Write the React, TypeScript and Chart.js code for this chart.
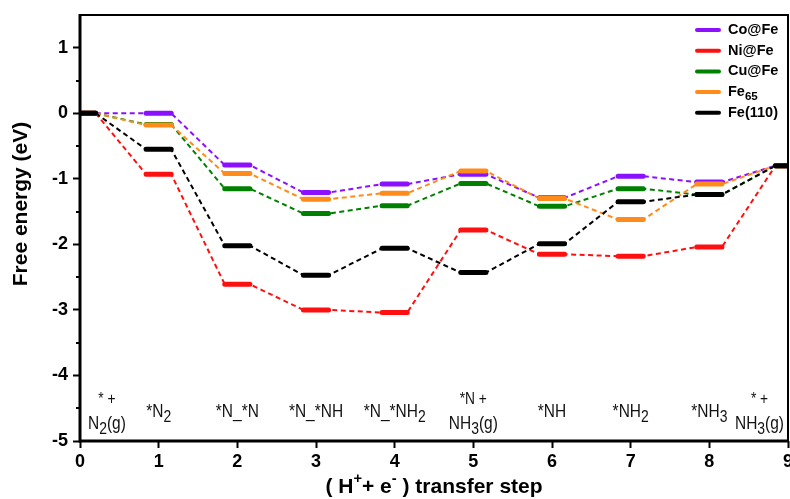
import React, { useEffect, useRef } from "react";
import { Chart, registerables } from "chart.js";
Chart.register(...registerables);

const steps = [0, 1, 2, 3, 4, 5, 6, 7, 8, 9];
const seriesNames = ["Co@Fe", "Ni@Fe", "Cu@Fe", "Fe_{65}", "Fe(110)"];
const coFe = [0, 0.0, -0.79, -1.21, -1.08, -0.93, -1.29, -0.96, -1.05, -0.8];
const niFe = [0, -0.93, -2.61, -3.0, -3.04, -1.78, -2.15, -2.18, -2.04, -0.8];
const cuFe = [0, -0.17, -1.15, -1.53, -1.41, -1.07, -1.42, -1.15, -1.24, -0.8];
const fe65 = [0, -0.18, -0.92, -1.31, -1.22, -0.88, -1.3, -1.62, -1.08, -0.8];
const fe110 = [0, -0.55, -2.02, -2.47, -2.06, -2.43, -1.99, -1.35, -1.24, -0.8];
const seriesValues = [coFe, niFe, cuFe, fe65, fe110];
const seriesColors = ["#8a10ff", "#ff1010", "#008000", "#ff8c1a", "#000000"];
const stepLabels = [
  "* +|N_{2}(g)",
  "*N_{2}",
  "*N_*N",
  "*N_*NH",
  "*N_*NH_{2}",
  "*N +|NH_{3}(g)",
  "*NH",
  "*NH_{2}",
  "*NH_{3}",
  "* +|NH_{3}(g)",
];
const yTitle = "Free energy (eV)";
const xTitle = "( H^{+}+ e^{-} ) transfer step";

const HALF = 0.16;
const END_W = 0.2;

const SANS = '"Liberation Sans", Arial, Helvetica, sans-serif';
const NARROW_SX = 0.86;

type Seg = { t: string; k: "n" | "sub" | "sup" };
function parseRich(s: string): Seg[] {
  const out: Seg[] = [];
  let i = 0;
  let buf = "";
  while (i < s.length) {
    if ((s[i] === "_" || s[i] === "^") && s[i + 1] === "{") {
      if (buf) out.push({ t: buf, k: "n" });
      buf = "";
      const end = s.indexOf("}", i);
      out.push({ t: s.slice(i + 2, end), k: s[i] === "_" ? "sub" : "sup" });
      i = end + 1;
    } else {
      buf += s[i];
      i++;
    }
  }
  if (buf) out.push({ t: buf, k: "n" });
  return out;
}

function segSize(k: string, size: number, subScale: number) {
  return k === "n" ? size : k === "sub" ? size * subScale : size * 0.7;
}

function measureRich(ctx: CanvasRenderingContext2D, text: string, size: number, weight: string, family: string, subScale = 0.8) {
  let total = 0;
  parseRich(text).forEach((sg) => {
    ctx.font = `${weight} ${segSize(sg.k, size, subScale)}px ${family}`;
    total += ctx.measureText(sg.t).width;
  });
  return total;
}

function drawRich(
  ctx: CanvasRenderingContext2D,
  text: string,
  x: number,
  y: number,
  size: number,
  weight: string,
  family: string,
  align: "left" | "center",
  sx = 1,
  subScale = 0.8
) {
  const segs = parseRich(text);
  const total = measureRich(ctx, text, size, weight, family, subScale);
  ctx.save();
  ctx.translate(x, y);
  ctx.scale(sx, 1);
  let cx = align === "center" ? -total / 2 : 0;
  ctx.textAlign = "left";
  ctx.textBaseline = "middle";
  segs.forEach((sg) => {
    ctx.font = `${weight} ${segSize(sg.k, size, subScale)}px ${family}`;
    const dy = sg.k === "sub" ? size * 0.32 : sg.k === "sup" ? -size * 0.38 : 0;
    ctx.fillText(sg.t, cx, dy);
    cx += ctx.measureText(sg.t).width;
  });
  ctx.restore();
  return total * sx;
}

const decorPlugin = {
  id: "decor",
  afterDatasetsDraw(chart: any) {
    const ctx: CanvasRenderingContext2D = chart.ctx;
    const { left, right } = chart.chartArea;
    const xs = chart.scales.x;
    ctx.save();
    ctx.fillStyle = "#111";
    stepLabels.forEach((lab, i) => {
      const lines = lab.split("|");
      const w = Math.max(...lines.map((l) => measureRich(ctx, l, 18, "normal", SANS, 0.9))) * NARROW_SX;
      let cx = xs.getPixelForValue(steps[i]);
      cx = Math.max(left + w / 2 + 8, Math.min(right - w / 2 - 4, cx));
      if (lines.length === 1) {
        drawRich(ctx, lines[0], cx, 412, 18, "normal", SANS, "center", NARROW_SX, 0.9);
      } else {
        drawRich(ctx, lines[0], cx, 400, 16, "normal", SANS, "center", NARROW_SX, 0.9);
        drawRich(ctx, lines[1], cx, 424, 18, "normal", SANS, "center", NARROW_SX, 0.9);
      }
    });
    ctx.restore();
  },
  afterDraw(chart: any) {
    const ctx: CanvasRenderingContext2D = chart.ctx;
    const { left, right, top, bottom } = chart.chartArea;
    const ys = chart.scales.y;
    ctx.save();
    // frame
    ctx.strokeStyle = "#000";
    ctx.lineWidth = 2;
    ctx.beginPath();
    ctx.moveTo(left, top);
    ctx.lineTo(right, top);
    ctx.lineTo(right, bottom);
    ctx.stroke();
    ctx.lineWidth = 3;
    ctx.beginPath();
    ctx.moveTo(left, top - 1);
    ctx.lineTo(left, bottom);
    ctx.lineTo(right, bottom);
    ctx.stroke();
    // minor y ticks
    ctx.lineWidth = 2;
    for (let v = ys.min + 0.5; v < ys.max; v += 1) {
      const py = Math.round(ys.getPixelForValue(v));
      ctx.beginPath();
      ctx.moveTo(left - 4, py);
      ctx.lineTo(left, py);
      ctx.stroke();
    }
    // legend
    seriesNames.forEach((name, i) => {
      const y = 30 + i * 20.7;
      ctx.strokeStyle = seriesColors[i];
      ctx.lineWidth = 4;
      ctx.lineCap = "round";
      ctx.beginPath();
      ctx.moveTo(697, y);
      ctx.lineTo(719, y);
      ctx.stroke();
      ctx.fillStyle = "#000";
      drawRich(ctx, name, 728, y, 14.5, "bold", SANS, "left");
    });
    // axis titles
    ctx.fillStyle = "#000";
    drawRich(ctx, xTitle, (left + right) / 2, 487, 21, "bold", SANS, "center");
    ctx.translate(21, 204);
    ctx.rotate(-Math.PI / 2);
    drawRich(ctx, yTitle, 0, 0, 21, "bold", SANS, "center");
    ctx.restore();
  },
};

export default function App() {
  const ref = useRef<HTMLCanvasElement | null>(null);
  useEffect(() => {
    document.body.style.margin = "0";
    const canvas = ref.current!;
    const datasets: any[] = [];
    seriesValues.forEach((vals, s) => {
      const conn: any[] = [];
      const lev: any[] = [];
      vals.forEach((v, i) => {
        const a = i === 0 ? steps[i] : i === steps.length - 1 ? steps[i] - END_W + 0.04 : steps[i] - HALF;
        const b = i === 0 ? steps[i] + END_W : i === steps.length - 1 ? steps[i] : steps[i] + HALF;
        lev.push({ x: a, y: v }, { x: b, y: v }, { x: b, y: null });
        if (i > 0) conn.push({ x: a, y: v });
        if (i < steps.length - 1) conn.push({ x: b, y: v });
      });
      datasets.push({
        label: seriesNames[s] + " link",
        data: conn,
        borderColor: seriesColors[s],
        borderWidth: 2,
        borderDash: [5, 3.5],
        pointRadius: 0,
        fill: false,
        tension: 0,
        order: 20 - s,
      });
      datasets.push({
        label: seriesNames[s],
        data: lev,
        borderColor: seriesColors[s],
        borderWidth: 5,
        borderCapStyle: "round",
        pointRadius: 0,
        fill: false,
        spanGaps: false,
        tension: 0,
        order: 10 - s,
      });
    });
    const chart = new Chart(canvas, {
      type: "line",
      data: { datasets },
      options: {
        animation: false,
        responsive: false,
        devicePixelRatio: 1,
        layout: { padding: { top: 15, right: 2, left: 0, bottom: 0 } },
        plugins: { legend: { display: false }, tooltip: { enabled: false } },
        scales: {
          x: {
            type: "linear",
            min: 0,
            max: 9,
            ticks: {
              stepSize: 1,
              color: "#000",
              padding: 3,
              font: { family: SANS, size: 18, weight: "bold" },
              includeBounds: false,
            },
            grid: { drawOnChartArea: false, drawTicks: true, tickLength: 7, tickWidth: 2, tickColor: "#000" },
            border: { display: false },
            afterFit: (sc: any) => {
              sc.height = 58;
              sc.paddingLeft = 0;
              sc.paddingRight = 0;
            },
          },
          y: {
            type: "linear",
            min: -5,
            max: 1.5,
            ticks: {
              stepSize: 1,
              color: "#000",
              padding: 5,
              font: { family: SANS, size: 18, weight: "bold" },
              includeBounds: false,
            },
            grid: { drawOnChartArea: false, drawTicks: true, tickLength: 7, tickWidth: 2, tickColor: "#000" },
            border: { display: false },
            afterFit: (sc: any) => {
              sc.width = 80;
              sc.paddingTop = 0;
              sc.paddingBottom = 0;
            },
          },
        },
      },
      plugins: [decorPlugin],
    });
    return () => chart.destroy();
  }, []);
  return <canvas ref={ref} width={790} height={499} style={{ display: "block", width: 790, height: 499 }} />;
}
